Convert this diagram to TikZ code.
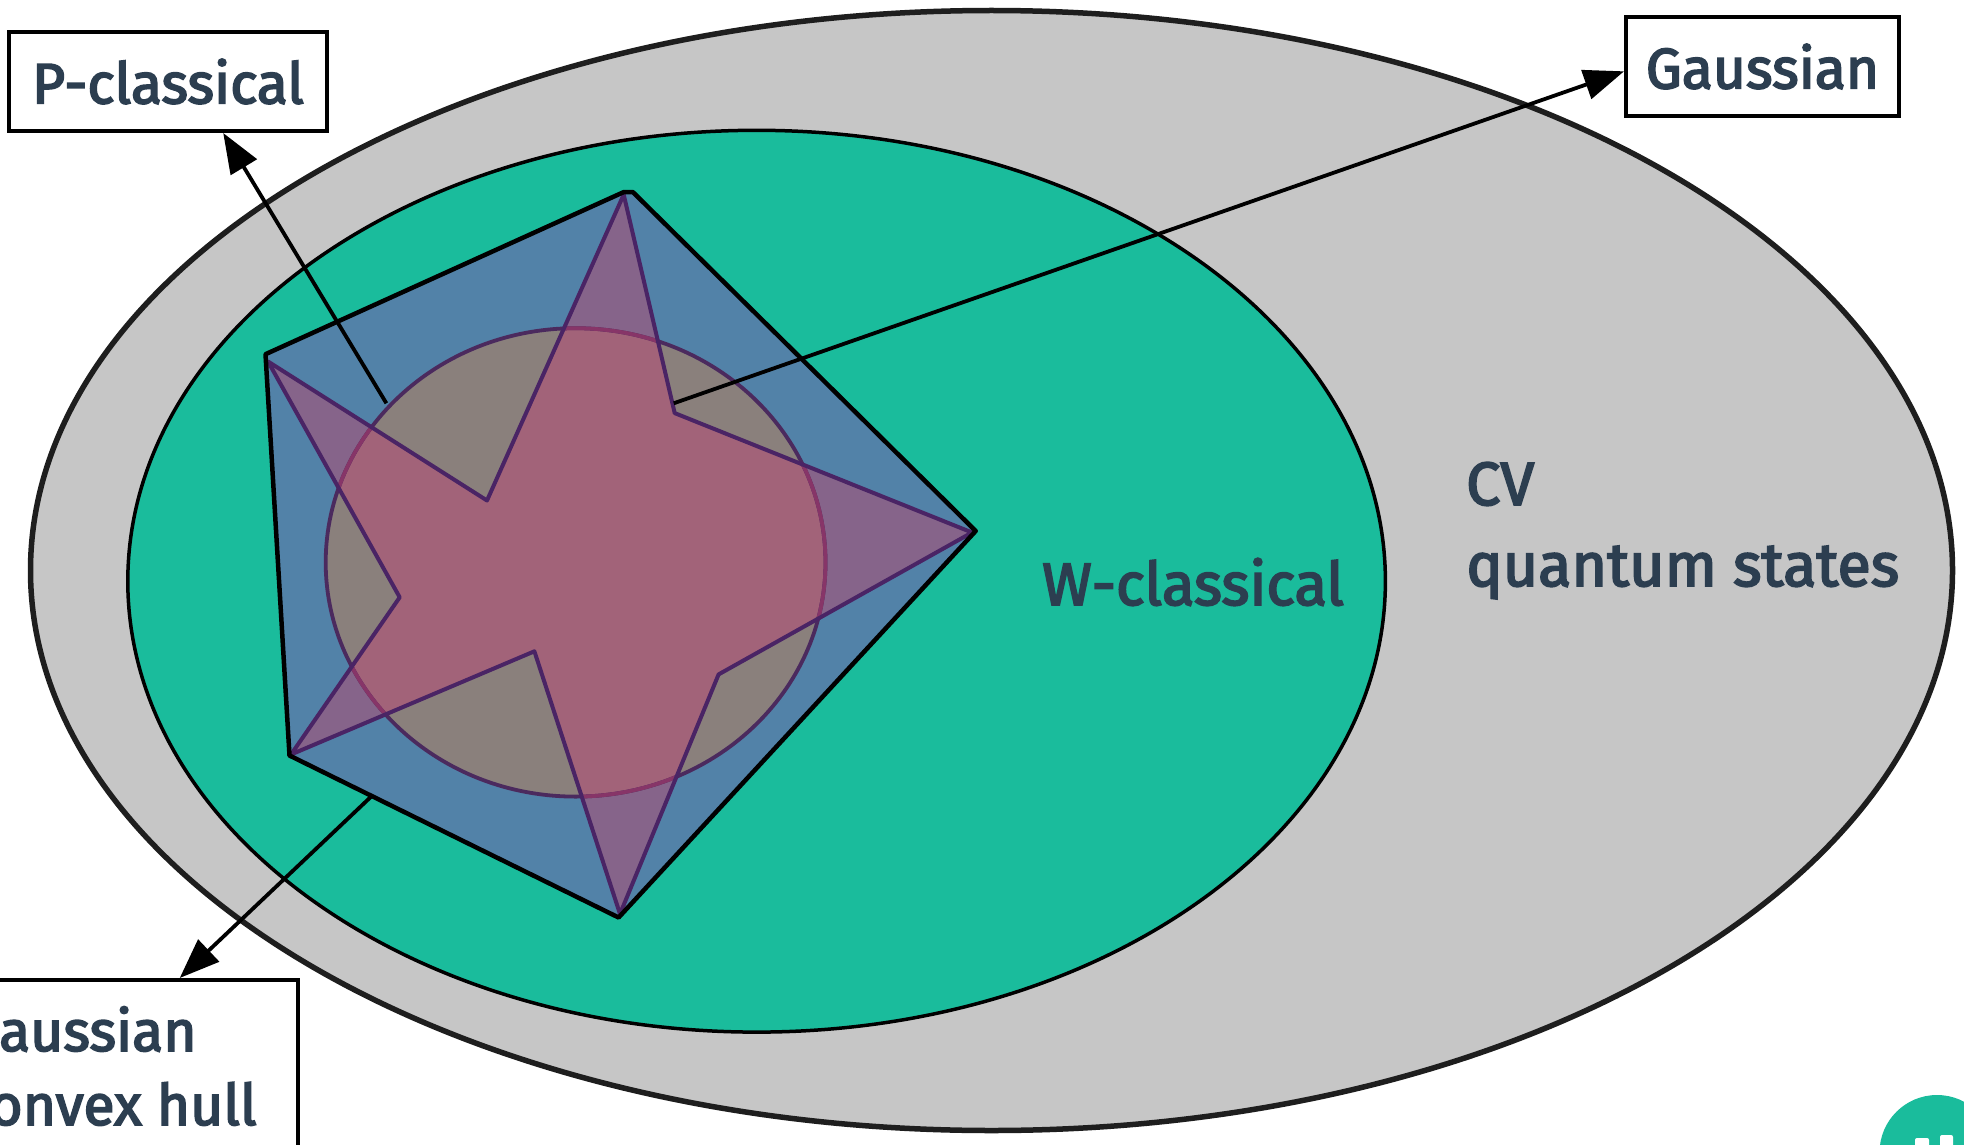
\documentclass[tikz,border=0pt]{standalone}
\usepackage{fontspec}
\setmainfont{Fira Sans}
\newfontfamily\semifont{Fira Sans}[FakeBold=3]
\usetikzlibrary{arrows.meta,calc}
\definecolor{outerfill}{HTML}{C6C6C6}
\definecolor{outerline}{HTML}{1E1E1E}
\definecolor{wgreen}{HTML}{1ABC9C}
\definecolor{hullblue}{HTML}{5282A8}
\definecolor{pgrey}{HTML}{8A807C}
\definecolor{starpurple}{HTML}{86648A}
\definecolor{starpink}{HTML}{A26379}
\definecolor{starline}{HTML}{4A2465}
\definecolor{circline}{HTML}{4B2A5E}
\definecolor{circlinein}{HTML}{873568}
\definecolor{txt}{HTML}{2C3E50}
\tikzset{
  labelbox/.style={draw=black, line width=4pt, fill=white, inner sep=0pt, text=txt,
    font=\semifont\fontsize{57}{74}\selectfont},
  setlabel/.style={text=txt, inner sep=0pt},
  conn/.style={draw=black, line width=3.8pt, -{Triangle[length=40pt,width=30pt]}},
}
\begin{document}
\begin{tikzpicture}[x=1pt,y=-1pt]
\useasboundingbox (0,0) rectangle (1964,1145);
\fill[white] (0,0) rectangle (1964,1145);

% outer set: CV quantum states
\draw[fill=outerfill, draw=outerline, line width=5.5pt] (991.5,570.5) ellipse [x radius=961pt, y radius=560pt];
% W-classical
\draw[fill=wgreen, draw=black, line width=3.5pt] (756.6,581.2) ellipse [x radius=628.8pt, y radius=450.9pt];

% pentagon (Gaussian convex hull)
\coordinate (P1a) at (623.7,192.1);
\coordinate (P1b) at (632.9,192.1);
\coordinate (P2) at (975.7,531);
\coordinate (P3) at (618.6,917.5);
\coordinate (P4) at (289.5,755.5);
\coordinate (P5) at (265.5,354.2);
\def\pentpath{(P1a) -- (P1b) -- (P2) -- (P3) -- (P4) -- (P5) -- cycle}
\fill[hullblue] \pentpath;

% circle (P-classical)
\def\circpath{(575.6,562.4) ellipse [x radius=249.9pt, y radius=234.2pt]}
\fill[pgrey] \circpath;

% star (Gaussian)
\def\starpath{(623.7,194.6) -- (674.7,413.1) -- (972,532.5) -- (718.6,674.4) -- (620,914) -- (534.4,651.3) -- (291,754.5) -- (399.7,597.3) -- (268,361.5) -- (487,500.5) -- cycle}
\fill[starpurple] \starpath;
\begin{scope}
  \clip \starpath;
  \fill[starpink] \circpath;
\end{scope}
\draw[circline, line width=3.8pt] \circpath;
\begin{scope}
  \clip \starpath;
  \draw[circlinein, line width=3.8pt] \circpath;
\end{scope}
\draw[starline, line width=4pt, line join=round] \starpath;
\draw[black, line width=4.5pt, line join=round] \pentpath;

% labels in sets
\node[setlabel, anchor=base west, font=\semifont\fontsize{60}{74}\selectfont] (wlab) at (1042,605) {W-classical};
\node[setlabel, anchor=base west, font=\semifont\fontsize{61}{74}\selectfont] (cv1) at (1466,505) {CV};
\node[setlabel, anchor=base west, font=\semifont\fontsize{61}{74}\selectfont] (cv2) at (1466,586) {quantum states};

% boxes
\node[labelbox, minimum width=318pt, minimum height=99pt] (pbox) at (168,81.5) {P-classical};
\node[labelbox, minimum width=273pt, minimum height=99pt] (gbox) at (1762.5,66.5) {Gaussian};
\node[labelbox, anchor=north west, minimum width=376pt, minimum height=172pt, align=left] (hbox) at (-80,978) {Gaussian\\convex hull};

% connectors
\coordinate (pstart) at (386.4,403.3);
\coordinate (gstart) at (673.7,403.3);
\coordinate (hstart) at ($(P4)!0.25!(P3)$);
\coordinate (htip) at ($(hbox.north west)!0.6835!(hbox.north east)$);
\draw[conn] (pstart) -- (pbox.-43);
\draw[conn] (gstart) -- (gbox.182);
\draw[conn] (hstart) -- (htip);

% corner logo
\fill[wgreen] (1937,1152.5) circle [radius=57.5pt];
\fill[white, rounded corners=2pt] (1915,1138) rectangle (1929,1150);
\fill[white, rounded corners=2pt] (1940,1135) rectangle (1953,1150);
\end{tikzpicture}
\end{document}
